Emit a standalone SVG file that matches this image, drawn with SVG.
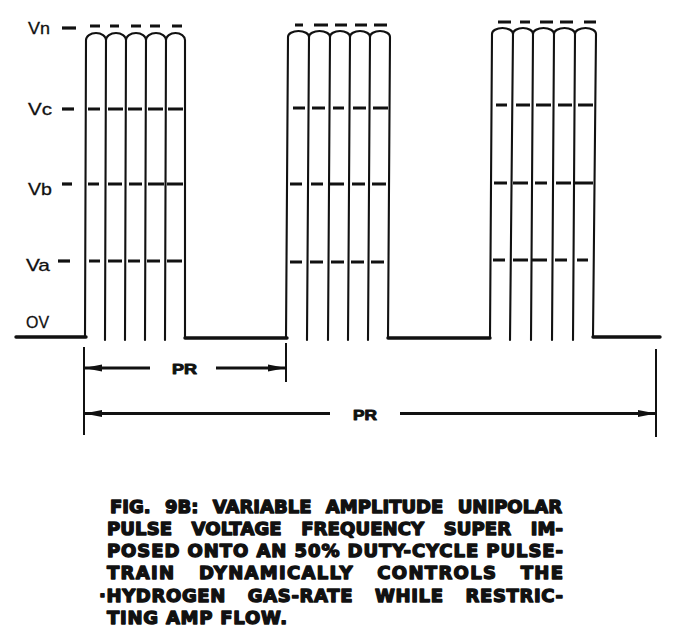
<svg xmlns="http://www.w3.org/2000/svg" width="683" height="637" viewBox="0 0 683 637">
<defs>
<marker id="ah" viewBox="0 0 18 8" refX="17" refY="4" markerWidth="18" markerHeight="8" orient="auto" markerUnits="userSpaceOnUse"><path d="M0,0.6 L18,4 L0,7.4 Z" fill="#111"/></marker>
<style>
.w{fill:none;stroke:#111;stroke-width:2.1;stroke-linecap:round;stroke-linejoin:round}
.base{fill:none;stroke:#111;stroke-width:3.4;stroke-linecap:round}
.d{stroke:#111;stroke-width:3.2;stroke-linecap:butt}
.tick{stroke:#111;stroke-width:2}
.arr{stroke:#111;stroke-width:3;marker-end:url(#ah)}
.lab{font-family:"Liberation Sans",Arial,sans-serif;font-size:17px;fill:#111;stroke:#111;stroke-width:0.3}
.pr{font-family:"Liberation Sans",Arial,sans-serif;font-weight:bold;font-size:14px;fill:#111;stroke:#111;stroke-width:0.9;stroke-linejoin:round}
.cap{font-family:"DejaVu Sans","Liberation Sans",sans-serif;font-weight:bold;font-size:18px;fill:#111;stroke:#111;stroke-width:1.4;stroke-linejoin:round}
</style>
</defs>
<rect width="683" height="637" fill="#fff"/>

<g id="baseline">
<path class="base" d="M16,337 H86"/>
<path class="base" d="M185,338 H287"/>
<path class="base" d="M388,338 H490"/>
<path class="base" d="M593,337 H660"/>
</g>

<g id="pulse-1">
<path class="w" d="M85,337 L86,40 A10 7 0 0 1 106 40 A10 7 0 0 1 126 40 A10 7 0 0 1 146 40 A10 7 0 0 1 166 40 A9.5 7 0 0 1 185 40 L185,338"/>
<path class="w" d="M106,40 L105,340 M126,40 L125,340 M146,40 L145,340 M166,40 L165,340"/>
<path class="d" d="M90,26 H100 M110,26 H119 M131,26 H141 M150,26 H160 M172,26 H182"/>
<path class="d" d="M88,109 H100 M108,109 H123 M128,109 H142 M148,109 H163 M168,109 H183"/>
<path class="d" d="M88,184 H99 M108,184 H122 M129,184 H142 M148,184 H164 M167,184 H183"/>
<path class="d" d="M89,261 H100 M108,261 H122 M128,261 H140 M147,261 H160 M167,261 H182"/>
</g>

<g id="pulse-2">
<path class="w" d="M286,338 L288,37 A10.5 6 0 0 1 309 37 A10.5 6 0 0 1 330 37 A10 6 0 0 1 350 37 A10 6 0 0 1 370 37 A10 6 0 0 1 390 37 L388,338"/>
<path class="w" d="M309,37 L307,340 M330,37 L328,340 M350,37 L348,340 M370,37 L368,340"/>
<path class="d" d="M295,25 H303 M314,25 H328 M335,25 H347 M355,25 H367 M374,25 H387"/>
<path class="d" d="M293,108 H305 M312,108 H325 M333,108 H344 M353,108 H366 M373,108 H388"/>
<path class="d" d="M290,184 H302 M311,184 H323 M330,184 H344 M352,184 H365 M372,184 H386"/>
<path class="d" d="M290,262 H302 M310,262 H323 M331,262 H344 M351,262 H364 M371,262 H384"/>
</g>

<g id="pulse-3">
<path class="w" d="M490,337 L492,34 A10.5 6 0 0 1 513 34 A10 6 0 0 1 533 34 A10.5 6 0 0 1 554 34 A10.5 6 0 0 1 575 34 A10.5 6 0 0 1 596 34 L593,337"/>
<path class="w" d="M513,34 L510,340 M533,34 L531,340 M554,34 L552,340 M575,34 L573,340"/>
<path class="d" d="M498,22 H511 M520,22 H530 M540,22 H553 M560,22 H573 M584,22 H596"/>
<path class="d" d="M496,105 H507 M516,105 H530 M536,105 H551 M558,105 H572 M578,105 H593"/>
<path class="d" d="M494,183 H507 M513,183 H528 M535,183 H547 M556,183 H571 M575,183 H593"/>
<path class="d" d="M493,260 H505 M513,260 H528 M532,260 H547 M555,260 H567 M577,260 H588"/>
</g>

<g id="level-labels">
<text class="lab" x="28" y="34" textLength="22" lengthAdjust="spacingAndGlyphs">Vn</text>
<path class="d" d="M62,28 H76"/>
<text class="lab" x="28" y="115" textLength="24" lengthAdjust="spacingAndGlyphs">Vc</text>
<path class="d" d="M62,109 H74"/>
<text class="lab" x="28" y="195" textLength="24" lengthAdjust="spacingAndGlyphs">Vb</text>
<path class="d" d="M62,184 H72"/>
<text class="lab" x="26" y="271" textLength="24" lengthAdjust="spacingAndGlyphs">Va</text>
<path class="d" d="M58,261 H70"/>
<text class="lab" x="26" y="328" textLength="23" lengthAdjust="spacingAndGlyphs">OV</text>
</g>

<g id="connectors">
<line class="tick" x1="84" y1="347" x2="84" y2="435"/>
<line class="tick" x1="286" y1="343" x2="286" y2="382"/>
<line class="tick" x1="656" y1="349" x2="656" y2="437"/>
<line class="arr" x1="150" y1="368" x2="85" y2="368"/>
<line class="arr" x1="216" y1="368" x2="285" y2="368"/>
<line class="arr" x1="330" y1="413.5" x2="85" y2="413.5"/>
<line class="arr" x1="400" y1="413.5" x2="655" y2="413.5"/>
<text class="pr" x="172" y="374" textLength="25" lengthAdjust="spacingAndGlyphs">PR</text>
<text class="pr" x="353" y="420" textLength="24" lengthAdjust="spacingAndGlyphs">PR</text>
</g>

<g id="caption">
<text class="cap" x="110" y="513" textLength="452" lengthAdjust="spacing" word-spacing="8">FIG. 9B: VARIABLE AMPLITUDE UNIPOLAR</text>
<text class="cap" x="107" y="535" textLength="456" lengthAdjust="spacing" word-spacing="13">PULSE VOLTAGE FREQUENCY SUPER IM-</text>
<text class="cap" x="107" y="557" textLength="456" lengthAdjust="spacing">POSED ONTO AN 50% DUTY-CYCLE PULSE-</text>
<text class="cap" x="107" y="579" textLength="456" lengthAdjust="spacing" word-spacing="16">TRAIN DYNAMICALLY CONTROLS THE</text>
<text class="cap" x="99" y="602" textLength="464" lengthAdjust="spacing" word-spacing="15">·HYDROGEN GAS-RATE WHILE RESTRIC-</text>
<text class="cap" x="107" y="624" textLength="180" lengthAdjust="spacing">TING AMP FLOW.</text>
</g>
</svg>
